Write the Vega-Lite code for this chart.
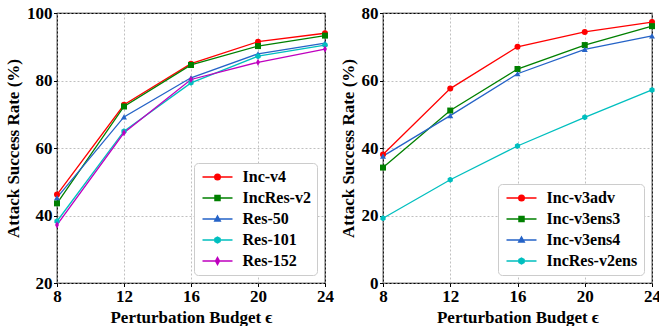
{
  "$schema": "https://vega.github.io/schema/vega-lite/v6.json",
  "padding": {"left": 3, "top": 3, "right": 0, "bottom": 0},
  "background": "white",
  "spacing": 3,
  "resolve": {"scale": {"color": "independent", "fill": "independent", "shape": "independent", "stroke": "independent", "x": "independent", "y": "independent"}, "legend": {"color": "independent", "fill": "independent", "shape": "independent", "stroke": "independent"}},
  "config": {
    "font": "Liberation Serif",
    "view": {"stroke": "black", "strokeWidth": 1.2},
    "axis": {
      "labelFont": "Liberation Serif", "labelFontSize": 17, "labelFontWeight": "bold", "labelColor": "black",
      "titleFont": "Liberation Serif", "titleFontSize": 17, "titleFontWeight": "bold", "titleColor": "black",
      "tickColor": "black", "tickSize": 3.5, "tickWidth": 1, "domain": false,
      "gridColor": "#b0b0b0", "gridDash": [2, 2], "gridWidth": 0.8,
      "labelPadding": 1.5, "labelFlush": false
    },
    "axisX": {"titlePadding": 5},
    "axisY": {"titlePadding": 4},
    "legend": {
      "orient": "bottom-right", "offset": 8, "title": null,
      "strokeColor": "#cccccc", "fillColor": "white", "cornerRadius": 4, "padding": 6,
      "labelFont": "Liberation Serif", "labelFontSize": 16, "labelFontWeight": "bold", "labelColor": "black",
      "symbolSize": 100, "rowPadding": 5, "symbolOffset": 9.5, "labelOffset": 17, "symbolStrokeWidth": 1.5, "symbolOpacity": 1
    }
  },
  "datasets": {
    "left": [
      {"eps": 8, "rate": 46.2, "model": "Inc-v4"},
      {"eps": 12, "rate": 72.8, "model": "Inc-v4"},
      {"eps": 16, "rate": 85.0, "model": "Inc-v4"},
      {"eps": 20, "rate": 91.5, "model": "Inc-v4"},
      {"eps": 24, "rate": 94.0, "model": "Inc-v4"},
      {"eps": 8, "rate": 43.6, "model": "IncRes-v2"},
      {"eps": 12, "rate": 72.3, "model": "IncRes-v2"},
      {"eps": 16, "rate": 84.6, "model": "IncRes-v2"},
      {"eps": 20, "rate": 90.2, "model": "IncRes-v2"},
      {"eps": 24, "rate": 93.3, "model": "IncRes-v2"},
      {"eps": 8, "rate": 45.3, "model": "Res-50"},
      {"eps": 12, "rate": 69.2, "model": "Res-50"},
      {"eps": 16, "rate": 80.8, "model": "Res-50"},
      {"eps": 20, "rate": 87.9, "model": "Res-50"},
      {"eps": 24, "rate": 91.1, "model": "Res-50"},
      {"eps": 8, "rate": 38.3, "model": "Res-101"},
      {"eps": 12, "rate": 65.0, "model": "Res-101"},
      {"eps": 16, "rate": 79.3, "model": "Res-101"},
      {"eps": 20, "rate": 87.2, "model": "Res-101"},
      {"eps": 24, "rate": 90.5, "model": "Res-101"},
      {"eps": 8, "rate": 37.2, "model": "Res-152"},
      {"eps": 12, "rate": 64.5, "model": "Res-152"},
      {"eps": 16, "rate": 80.3, "model": "Res-152"},
      {"eps": 20, "rate": 85.4, "model": "Res-152"},
      {"eps": 24, "rate": 89.3, "model": "Res-152"}
    ],
    "right": [
      {"eps": 8, "rate": 38.1, "model": "Inc-v3adv"},
      {"eps": 12, "rate": 57.6, "model": "Inc-v3adv"},
      {"eps": 16, "rate": 70.0, "model": "Inc-v3adv"},
      {"eps": 20, "rate": 74.4, "model": "Inc-v3adv"},
      {"eps": 24, "rate": 77.3, "model": "Inc-v3adv"},
      {"eps": 8, "rate": 34.2, "model": "Inc-v3ens3"},
      {"eps": 12, "rate": 51.1, "model": "Inc-v3ens3"},
      {"eps": 16, "rate": 63.4, "model": "Inc-v3ens3"},
      {"eps": 20, "rate": 70.5, "model": "Inc-v3ens3"},
      {"eps": 24, "rate": 76.1, "model": "Inc-v3ens3"},
      {"eps": 8, "rate": 37.6, "model": "Inc-v3ens4"},
      {"eps": 12, "rate": 49.6, "model": "Inc-v3ens4"},
      {"eps": 16, "rate": 62.0, "model": "Inc-v3ens4"},
      {"eps": 20, "rate": 69.2, "model": "Inc-v3ens4"},
      {"eps": 24, "rate": 73.2, "model": "Inc-v3ens4"},
      {"eps": 8, "rate": 19.2, "model": "IncRes-v2ens"},
      {"eps": 12, "rate": 30.6, "model": "IncRes-v2ens"},
      {"eps": 16, "rate": 40.6, "model": "IncRes-v2ens"},
      {"eps": 20, "rate": 49.1, "model": "IncRes-v2ens"},
      {"eps": 24, "rate": 57.2, "model": "IncRes-v2ens"}
    ]
  },
  "hconcat": [
    {
      "width": 268, "height": 270,
      "data": {"name": "left"},
      "encoding": {
        "x": {"field": "eps", "type": "quantitative", "title": "Perturbation Budget ϵ",
              "scale": {"domain": [8, 24], "nice": false, "zero": false},
              "axis": {"values": [8, 12, 16, 20, 24]}},
        "y": {"field": "rate", "type": "quantitative", "title": "Attack Success Rate (%)",
              "scale": {"domain": [20, 100], "nice": false, "zero": false},
              "axis": {"values": [20, 40, 60, 80, 100]}}
      },
      "layer": [
        {"mark": {"type": "line", "strokeWidth": 1.3},
         "encoding": {"color": {"field": "model", "type": "nominal", "legend": null, "scale": {"range": ["#ff0000", "#008000", "#00bfbf", "#bf00bf", "#2563c7"]}}}},
        {"transform": [{"filter": "datum.model == 'Inc-v4'"}],
         "mark": {"type": "point", "filled": true, "opacity": 1, "size": 36, "shape": "circle", "color": "#ff0000"}},
        {"transform": [{"filter": "datum.model == 'IncRes-v2'"}],
         "mark": {"type": "point", "filled": true, "opacity": 1, "size": 36, "shape": "square", "color": "#008000"}},
        {"transform": [{"filter": "datum.model == 'Res-50'"}],
         "mark": {"type": "point", "filled": true, "opacity": 1, "size": 36, "shape": "triangle-up", "color": "#2563c7"}},
        {"transform": [{"filter": "datum.model == 'Res-101'"}],
         "mark": {"type": "point", "filled": true, "opacity": 1, "size": 36, "shape": "M0,-1L0.866,-0.5L0.866,0.5L0,1L-0.866,0.5L-0.866,-0.5Z", "color": "#00bfbf"}},
        {"transform": [{"filter": "datum.model == 'Res-152'"}],
         "mark": {"type": "point", "filled": true, "opacity": 1, "size": 36, "shape": "M0,-1.2L0.65,0L0,1.2L-0.65,0Z", "color": "#bf00bf"}},
        {"transform": [{"filter": "datum.eps > 100"}],
         "mark": {"type": "point", "filled": true, "opacity": 1, "size": 100},
         "encoding": {
           "fill": {"field": "model", "type": "nominal",
                    "scale": {"domain": ["Inc-v4", "IncRes-v2", "Res-50", "Res-101", "Res-152"],
                              "range": ["#ff0000", "#008000", "#2563c7", "#00bfbf", "#bf00bf"]}},
           "stroke": {"field": "model", "type": "nominal",
                      "scale": {"domain": ["Inc-v4", "IncRes-v2", "Res-50", "Res-101", "Res-152"],
                                "range": ["#ff0000", "#008000", "#2563c7", "#00bfbf", "#bf00bf"]}},
           "shape": {"field": "model", "type": "nominal",
                     "scale": {"domain": ["Inc-v4", "IncRes-v2", "Res-50", "Res-101", "Res-152"],
                               "range": ["M-3,0H3M0.55,0A0.55,0.55,0,1,1,-0.55,0A0.55,0.55,0,1,1,0.55,0Z", "M-3,0H3M-0.5,-0.5H0.5V0.5H-0.5Z", "M-3,0H3M0,-0.6L0.55,0.42H-0.55Z", "M-3,0H3M0,-0.58L0.5,-0.29L0.5,0.29L0,0.58L-0.5,0.29L-0.5,-0.29Z", "M-3,0H3M0,-0.7L0.38,0L0,0.7L-0.38,0Z"]}}
         }}
      ]
    },
    {
      "width": 269, "height": 270,
      "data": {"name": "right"},
      "encoding": {
        "x": {"field": "eps", "type": "quantitative", "title": "Perturbation Budget ϵ",
              "scale": {"domain": [8, 24], "nice": false, "zero": false},
              "axis": {"values": [8, 12, 16, 20, 24]}},
        "y": {"field": "rate", "type": "quantitative", "title": "Attack Success Rate (%)",
              "scale": {"domain": [0, 80], "nice": false},
              "axis": {"values": [0, 20, 40, 60, 80]}}
      },
      "layer": [
        {"mark": {"type": "line", "strokeWidth": 1.3},
         "encoding": {"color": {"field": "model", "type": "nominal", "legend": null, "scale": {"range": ["#ff0000", "#008000", "#2563c7", "#00bfbf"]}}}},
        {"transform": [{"filter": "datum.model == 'Inc-v3adv'"}],
         "mark": {"type": "point", "filled": true, "opacity": 1, "size": 36, "shape": "circle", "color": "#ff0000"}},
        {"transform": [{"filter": "datum.model == 'Inc-v3ens3'"}],
         "mark": {"type": "point", "filled": true, "opacity": 1, "size": 36, "shape": "square", "color": "#008000"}},
        {"transform": [{"filter": "datum.model == 'Inc-v3ens4'"}],
         "mark": {"type": "point", "filled": true, "opacity": 1, "size": 36, "shape": "triangle-up", "color": "#2563c7"}},
        {"transform": [{"filter": "datum.model == 'IncRes-v2ens'"}],
         "mark": {"type": "point", "filled": true, "opacity": 1, "size": 36, "shape": "M0,-1L0.866,-0.5L0.866,0.5L0,1L-0.866,0.5L-0.866,-0.5Z", "color": "#00bfbf"}},
        {"transform": [{"filter": "datum.eps > 100"}],
         "mark": {"type": "point", "filled": true, "opacity": 1, "size": 100},
         "encoding": {
           "fill": {"field": "model", "type": "nominal",
                    "scale": {"domain": ["Inc-v3adv", "Inc-v3ens3", "Inc-v3ens4", "IncRes-v2ens"],
                              "range": ["#ff0000", "#008000", "#2563c7", "#00bfbf"]}},
           "stroke": {"field": "model", "type": "nominal",
                      "scale": {"domain": ["Inc-v3adv", "Inc-v3ens3", "Inc-v3ens4", "IncRes-v2ens"],
                                "range": ["#ff0000", "#008000", "#2563c7", "#00bfbf"]}},
           "shape": {"field": "model", "type": "nominal",
                     "scale": {"domain": ["Inc-v3adv", "Inc-v3ens3", "Inc-v3ens4", "IncRes-v2ens"],
                               "range": ["M-3,0H3M0.55,0A0.55,0.55,0,1,1,-0.55,0A0.55,0.55,0,1,1,0.55,0Z", "M-3,0H3M-0.5,-0.5H0.5V0.5H-0.5Z", "M-3,0H3M0,-0.6L0.55,0.42H-0.55Z", "M-3,0H3M0,-0.58L0.5,-0.29L0.5,0.29L0,0.58L-0.5,0.29L-0.5,-0.29Z"]}}
         }}
      ]
    }
  ]
}
